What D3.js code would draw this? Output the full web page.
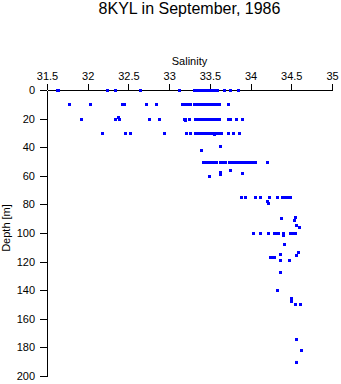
<!DOCTYPE html>
<html>
<head>
<meta charset="utf-8">
<script src="https://cdn.jsdelivr.net/npm/d3@7"></script>
<style>
  html, body { margin: 0; padding: 0; background: #fff; }
  svg { display: block; }
  text { font-family: "Liberation Sans", Arial, Helvetica, sans-serif; fill: #000; }
</style>
</head>
<body>
<svg id="chart" width="341" height="384"></svg>
<script>
// ---- data (salinity, grouped by sampling depth) ----
const xTicks = [31.5, 32, 32.5, 33, 33.5, 34, 34.5, 35];
const yTicks = [0, 20, 40, 60, 80, 100, 120, 140, 160, 180, 200];

const sal0 = [31.62, 31.64, 32.24, 32.34, 32.64, 33.12, 33.30, 33.32, 33.35, 33.37, 33.40, 33.42,
              33.45, 33.47, 33.50, 33.52, 33.55, 33.59, 33.67, 33.75, 33.84];
const sal10 = [31.77, 32.03, 32.42, 32.45, 32.72, 32.84, 33.16, 33.19, 33.21, 33.24, 33.26, 33.31,
               33.33, 33.36, 33.38, 33.40, 33.43, 33.45, 33.48, 33.50, 33.52, 33.55, 33.56, 33.59,
               33.61, 33.72];
const sal20 = [31.92, 32.34, 32.39, 32.75, 32.88, 33.18, 33.20, 33.24, 33.32, 33.36, 33.38, 33.41,
               33.43, 33.46, 33.48, 33.51, 33.53, 33.56, 33.58, 33.61, 33.72, 33.75, 33.82, 33.89];
const sal30 = [32.17, 32.46, 32.52, 32.94, 33.21, 33.26, 33.32, 33.36, 33.38, 33.41, 33.43, 33.46,
               33.48, 33.50, 33.53, 33.55, 33.58, 33.60, 33.64, 33.72, 33.78, 33.86];
const sal50 = [33.42, 33.44, 33.46, 33.49, 33.51, 33.54, 33.56, 33.57, 33.62, 33.65, 33.69, 33.73,
               33.75, 33.78, 33.80, 33.83, 33.85, 33.88, 33.90, 33.92, 33.95, 33.97, 34.00, 34.02,
               34.04, 34.06, 34.20];
const sal75 = [33.88, 33.93, 34.06, 34.11, 34.23, 34.33, 34.38, 34.41, 34.43, 34.46, 34.48];
const sal100 = [34.03, 34.12, 34.21, 34.29, 34.31, 34.34, 34.40, 34.48, 34.51, 34.54];

// scattered samples at other depths
const otherSal = [32.37, 33.20, 33.55, 33.63, 33.39, 33.75, 33.62, 33.63, 33.90, 33.49, 34.20, 34.22,
                  34.37, 34.55, 34.53, 34.56, 34.60, 34.40, 34.41, 34.36, 34.58, 34.56, 34.24,
                  34.26, 34.29, 34.36, 34.47, 34.36, 34.33, 34.50, 34.50, 34.54, 34.55, 34.61,
                  34.56, 34.62, 34.56];
const otherDepth = [19, 21, 31, 38.9, 41.9, 55.8, 57.3, 58.5, 57.7, 59.8, 77.3, 78.7,
                    89.4, 88.7, 90.6, 94.5, 95.7, 101.5, 107.5, 114.5, 113.4, 115.2, 116.6,
                    116.6, 116.6, 118.7, 118.7, 127.4, 140.2, 145.3, 147.5, 149.5, 149.5, 149.5,
                    174, 182, 190];

const levels = [
  {depth: 0, sal: sal0}, {depth: 10, sal: sal10}, {depth: 20, sal: sal20},
  {depth: 30, sal: sal30}, {depth: 50, sal: sal50}, {depth: 75, sal: sal75},
  {depth: 100, sal: sal100}
];
const points = [];
levels.forEach(l => l.sal.forEach(s => points.push({s: s, d: l.depth})));
otherSal.forEach((s, i) => points.push({s: s, d: otherDepth[i]}));

// ---- layout ----
const svg = d3.select("#chart");
const mLeft = 47, mRight = 332, mTop = 90, mBottom = 376;

const x = d3.scaleLinear().domain([31.5, 35]).range([mLeft, mRight]);
const y = d3.scaleLinear().domain([0, 200]).range([mTop, mBottom]);

// title
svg.append("text")
  .attr("x", 189.5).attr("y", 14)
  .attr("text-anchor", "middle")
  .style("font-size", "16px")
  .text("8KYL in September, 1986");

// x axis (top)
const xAxis = d3.axisTop(x).tickValues(xTicks).tickFormat(d3.format("")).tickSize(6).tickPadding(4).tickSizeOuter(0);
const gx = svg.append("g").attr("transform", `translate(0,${mTop})`).call(xAxis);
gx.attr("font-family", null).attr("font-size", null);
gx.selectAll("text").style("font-size", "11px");

svg.append("text")
  .attr("x", (mLeft + mRight) / 2).attr("y", 65)
  .attr("text-anchor", "middle")
  .style("font-size", "11px")
  .text("Salinity");

// y axis
const yAxis = d3.axisLeft(y).tickValues(yTicks).tickSize(7).tickPadding(5).tickSizeOuter(0);
const gy = svg.append("g").attr("transform", `translate(${mLeft},0)`).call(yAxis);
gy.attr("font-family", null).attr("font-size", null);
gy.selectAll("text").style("font-size", "11px");

[gx, gy].forEach(g => {
  g.selectAll("path, line").attr("stroke", "#000").attr("shape-rendering", "crispEdges");
});

svg.append("text")
  .attr("transform", `translate(10,228) rotate(-90)`)
  .attr("text-anchor", "middle")
  .style("font-size", "11px")
  .text("Depth [m]");

// points
svg.append("g")
  .selectAll("rect")
  .data(points)
  .join("rect")
  .attr("x", d => Math.round(x(d.s)) - 1)
  .attr("y", d => Math.round(y(d.d)) - 1)
  .attr("width", 3)
  .attr("height", 3)
  .attr("fill", "#0000ff")
  .attr("shape-rendering", "crispEdges");
</script>
</body>
</html>
